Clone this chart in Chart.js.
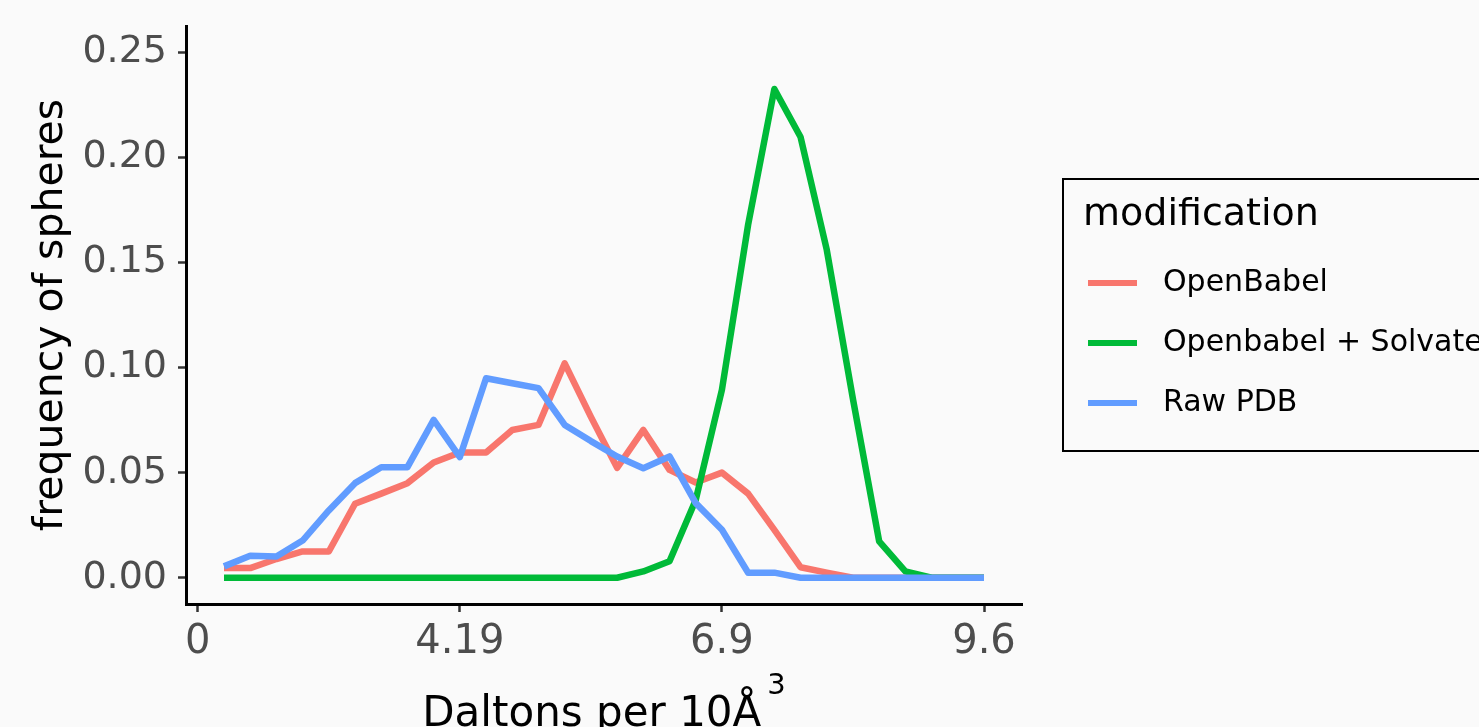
<!DOCTYPE html>
<html>
<head>
<meta charset="utf-8">
<script src="https://cdn.jsdelivr.net/npm/chart.js@4.4.1/dist/chart.umd.min.js"></script>
<style>
  html, body { margin: 0; padding: 0; background: #fafafa; overflow: hidden; }
  canvas { display: block; }
</style>
</head>
<body>
<canvas id="densityChart" width="1479" height="727"></canvas>
<script>
// bin positions along the x axis (1 step = one density bin)
const bins = [1, 2, 3, 4, 5, 6, 7, 8, 9, 10, 11, 12, 13, 14, 15, 16, 17, 18, 19, 20, 21, 22, 23, 24, 25, 26, 27, 28, 29, 30];

const openBabel = [0.0046, 0.0046, 0.0089, 0.0125, 0.0125, 0.0352, 0.040, 0.045, 0.0548, 0.0596,
                   0.0596, 0.0703, 0.0727, 0.102, 0.0765, 0.0523, 0.0703, 0.0513, 0.0453, 0.050,
                   0.040, 0.0228, 0.005, 0.0024, 0, 0, 0, 0, 0, 0];
const openBabelSolvated = [0, 0, 0, 0, 0, 0, 0, 0, 0, 0,
                           0, 0, 0, 0, 0, 0, 0.003, 0.0078, 0.037, 0.0894,
                           0.168, 0.2325, 0.2097, 0.156, 0.085, 0.0173, 0.003, 0, 0, 0];
const rawPdb = [0.0054, 0.0105, 0.0101, 0.0177, 0.032, 0.045, 0.0526, 0.0526, 0.0751, 0.0574,
                0.0949, 0.0925, 0.0902, 0.0727, 0.065, 0.0577, 0.0521, 0.0577, 0.0355, 0.0228,
                0.0024, 0.0024, 0, 0, 0, 0, 0, 0, 0, 0];

const seriesNames = ['OpenBabel', 'Openbabel + Solvated', 'Raw PDB'];
const seriesColors = ['#F8766D', '#00BA38', '#619CFF'];

const yTicks = [0, 0.05, 0.10, 0.15, 0.20, 0.25];
const xTickPositions = [0, 10, 20, 30];
const xTickLabels = ['0', '4.19', '6.9', '9.6'];

const FONT = '"DejaVu Sans", "Liberation Sans", sans-serif';

function toPoints(values) {
    return values.map((v, i) => ({ x: bins[i], y: v }));
}

// light grey page background behind everything
const background = {
    id: 'background',
    beforeDraw(chart) {
        const c = chart.ctx;
        c.save();
        c.fillStyle = '#fafafa';
        c.fillRect(0, 0, chart.width, chart.height);
        c.restore();
    }
};

// x title with the superscript 3, centred under the panel
const xTitle = {
    id: 'xTitle',
    afterDraw(chart) {
        const c = chart.ctx;
        const area = chart.chartArea;
        c.save();
        c.fillStyle = '#000';
        c.textBaseline = 'alphabetic';
        c.font = '42px ' + FONT;
        const main = 'Daltons per 10Å';
        const mainW = c.measureText(main).width;
        c.font = '29px ' + FONT;
        const supW = c.measureText('3').width;
        const startX = (area.left + area.right) / 2 - (mainW + supW + 6) / 2;
        c.font = '42px ' + FONT;
        c.fillText(main, startX, 726);
        c.font = '29px ' + FONT;
        c.fillText('3', startX + mainW + 6, 694);
        c.restore();
    }
};

// ggplot style legend in a framed box on the right
const boxedLegend = {
    id: 'boxedLegend',
    afterDraw(chart) {
        const c = chart.ctx;
        c.save();
        c.strokeStyle = '#000';
        c.lineWidth = 2;
        c.strokeRect(1063, 179, 500, 272);
        c.fillStyle = '#000';
        c.textBaseline = 'middle';
        c.font = '38px ' + FONT;
        c.fillText('modification', 1083, 215);
        c.font = '30px ' + FONT;
        chart.data.datasets.forEach((ds, i) => {
            const y = 283 + i * 60;
            c.strokeStyle = ds.borderColor;
            c.lineWidth = 6;
            c.beginPath();
            c.moveTo(1088, y);
            c.lineTo(1137, y);
            c.stroke();
            c.fillText(ds.label, 1163, y);
        });
        c.restore();
    }
};

const ctx = document.getElementById('densityChart').getContext('2d');
const seriesData = [openBabel, openBabelSolvated, rawPdb];

new Chart(ctx, {
    type: 'line',
    data: {
        datasets: seriesData.map((vals, i) => ({
            label: seriesNames[i],
            data: toPoints(vals),
            borderColor: seriesColors[i],
            backgroundColor: seriesColors[i],
            borderWidth: 6.5,
            pointRadius: 0,
            tension: 0,
            fill: false,
            borderJoinStyle: 'round',
            order: 3 - i
        }))
    },
    options: {
        responsive: false,
        animation: false,
        devicePixelRatio: 1,
        layout: { padding: { left: 0, right: 457, top: 26, bottom: 0 } },
        plugins: {
            legend: { display: false },
            tooltip: { enabled: false }
        },
        scales: {
            x: {
                type: 'linear',
                min: -0.45,
                max: 31.45,
                afterBuildTicks: axis => { axis.ticks = xTickPositions.map(v => ({ value: v })); },
                afterFit: axis => {
                    axis.height = 123;
                    axis.paddingLeft = 0;
                    axis.paddingRight = 0;
                },
                ticks: {
                    autoSkip: false,
                    maxRotation: 0,
                    padding: 7,
                    color: '#4d4d4d',
                    font: { family: FONT, size: 40 },
                    callback: v => xTickLabels[xTickPositions.indexOf(v)]
                },
                grid: { drawOnChartArea: false, drawTicks: true, tickLength: 8, tickWidth: 2.5, color: '#333' },
                border: { display: true, color: '#000', width: 3 }
            },
            y: {
                min: -0.0125,
                max: 0.2625,
                afterBuildTicks: axis => { axis.ticks = yTicks.map(v => ({ value: v })); },
                afterFit: axis => {
                    axis.width = 186;
                    axis.paddingTop = 0;
                    axis.paddingBottom = 0;
                },
                ticks: {
                    padding: 11,
                    color: '#4d4d4d',
                    font: { family: FONT, size: 38 },
                    callback: v => v.toFixed(2)
                },
                title: {
                    display: true,
                    text: 'frequency of spheres',
                    color: '#000',
                    font: { family: FONT, size: 41 },
                    padding: { top: 27, bottom: 0 }
                },
                grid: { drawOnChartArea: false, drawTicks: true, tickLength: 8, tickWidth: 2.5, color: '#333' },
                border: { display: true, color: '#000', width: 3 }
            }
        }
    },
    plugins: [background, xTitle, boxedLegend]
});
</script>
</body>
</html>
